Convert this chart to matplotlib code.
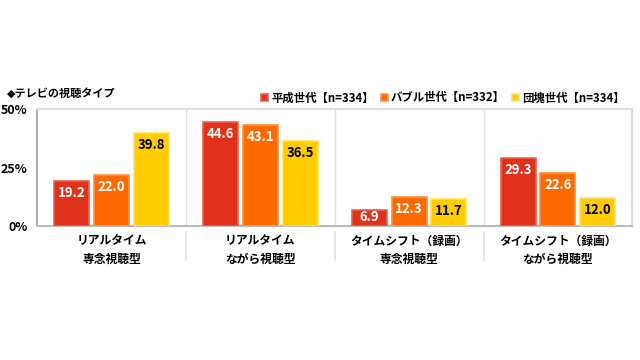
import numpy as np
import matplotlib
matplotlib.use("Agg")
from matplotlib import pyplot as plt
import matplotlib.transforms as mtrans

plt.rcParams['font.family'] = ['Noto Sans CJK JP', 'DejaVu Sans']

categories = ['リアルタイム\n専念視聴型', 'リアルタイム\nながら視聴型',
              'タイムシフト（録画）\n専念視聴型', 'タイムシフト（録画）\nながら視聴型']
series = ['平成世代【n=334】', 'バブル世代【n=332】', '団塊世代【n=334】']
heisei = [19.2, 44.6, 6.9, 29.3]
bubble = [22.0, 43.1, 12.3, 22.6]
dankai = [39.8, 36.5, 11.7, 12.0]
yticks = [0, 25, 50]

colors = ['#E0311A', '#FF6A00', '#FFCC00']
edges = ['#F06048', '#FF9040', '#FFE060']
txtcol = ['white', 'white', 'black']

fig = plt.figure(figsize=(6.4, 3.6), dpi=100)
ax = fig.add_axes([0.058, 0.372, 0.930, 0.325])

x = np.arange(len(categories))
w = 0.235
step = 0.267
for i, vals in enumerate([heisei, bubble, dankai]):
    pos = x + (i - 1) * step
    ax.bar(pos, vals, w, color=colors[i], edgecolor=edges[i], linewidth=1.2,
           label=series[i], zorder=3)
    for p, v in zip(pos, vals):
        ax.text(p, max(v - 5.2, v * 0.55), f'{v:.1f}', ha='center', va='center',
                color=txtcol[i], fontsize=9.5, fontweight='bold', zorder=4)

ax.set_xlim(-0.5, 3.5)
ax.set_ylim(0, 50)
ax.set_yticks(yticks)
ax.set_yticklabels([f'{t}%' for t in yticks], fontsize=9, fontweight='bold')
ax.tick_params(axis='y', length=0, pad=7)
ax.set_xticks([])

for s in ['top', 'right']:
    ax.spines[s].set_color('#DDDDDD')
    ax.spines[s].set_linewidth(1.5)
ax.spines['left'].set_color('#999999')
ax.spines['bottom'].set_color('#BBBBBB')
ax.spines['left'].set_linewidth(1.2)
ax.spines['bottom'].set_linewidth(1.5)

trans = mtrans.blended_transform_factory(ax.transData, ax.transAxes)
for b in [0.5, 1.5, 2.5]:
    ax.plot([b, b], [0, 1], transform=trans, color='#E0E0E0', lw=1, zorder=1)
    ax.plot([b, b], [-0.05, -0.29], transform=trans, color='#E0E0E0', lw=1.2,
            clip_on=False)
for c, lab in zip(x, categories):
    ax.text(c, -0.205, lab, transform=trans, ha='center', va='center',
            fontsize=8.5, fontweight='bold', linespacing=1.5)

fig.text(0.011, 0.742, '◆テレビの視聴タイプ', fontsize=8, fontweight='bold',
         va='center', family=['DejaVu Sans', 'Noto Sans CJK JP'])

leg = fig.legend(loc='center right', bbox_to_anchor=(0.992, 0.728), ncol=3,
                 frameon=False, handlelength=0.6, handleheight=0.6,
                 handletextpad=0.3, columnspacing=0.6,
                 prop={'size': 8.2, 'weight': 'bold'})

fig.savefig('out.png', dpi=100)
